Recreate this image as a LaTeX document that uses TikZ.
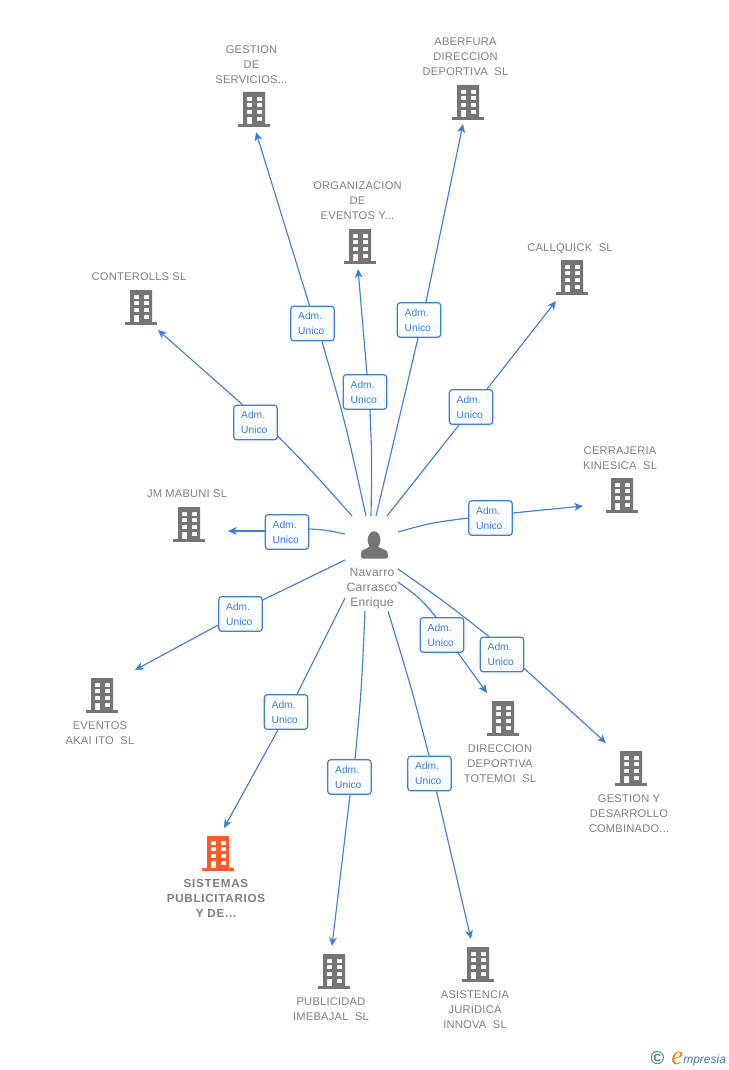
\documentclass[tikz,border=0pt]{standalone}
\usepackage{fontspec}
\setmainfont{Liberation Sans}
\newfontfamily\lblfont[LetterSpace=2]{Liberation Sans}
\newfontfamily\boldlbl[LetterSpace=6]{Liberation Sans Bold}
\newfontfamily\logofont{Liberation Serif Italic}
\newfontfamily\logosans{Liberation Sans Italic}
\newfontfamily\logobold{Liberation Sans Bold}
\usetikzlibrary{arrows.meta,calc}
\definecolor{edgeblue}{HTML}{3A7FDD}
\definecolor{iconbase}{HTML}{757575}
\definecolor{lbl}{HTML}{7F7F7F}
\definecolor{hot}{HTML}{FF5A2B}
\definecolor{logoteal}{HTML}{3E7F95}
\definecolor{logoorange}{HTML}{F08A1E}
\tikzset{
  x=0.75pt,y=-0.75pt,
  adm/.style={draw=edgeblue,line width=0.9pt,top color=white,bottom color=edgeblue!5,rounded corners=2.2pt,minimum width=32.5pt,minimum height=26pt,inner sep=0pt,text=edgeblue,font=\fontsize{7.7}{11.25}\selectfont},
  entlbl/.style={text=lbl,align=center,inner sep=0pt,anchor=north,font=\fontsize{8.35}{11.25}\lblfont},
  hotlbl/.style={text=lbl,align=center,inner sep=0pt,anchor=north,font=\fontsize{8.75}{11.25}\boldlbl},
  perlbl/.style={text=lbl,align=center,inner sep=0pt,anchor=north,font=\fontsize{9.1}{11.25}\lblfont},
  conn/.style={draw=edgeblue,line width=0.85pt},
  connarrow/.style={conn,-{Stealth[length=6.5pt,width=5.8pt,inset=1.8pt]}},
}
\newcommand{\admbox}[3]{\node[adm,align=left,text width=21.5pt] (#1) at (#2,#3) {Adm.\\Unico};}
\newcommand{\bldg}[4][iconbase]{%
  \coordinate (#2) at (#3,#4);
  \fill[#1,even odd rule] ($(#2)+(-11,-35)$) rectangle ($(#2)+(11,-3)$)
    ($(#2)+(-7,-30)$) rectangle ($(#2)+(-2,-26)$)
    ($(#2)+(3,-30)$) rectangle ($(#2)+(8,-26)$)
    ($(#2)+(-7,-24)$) rectangle ($(#2)+(-2,-20)$)
    ($(#2)+(3,-24)$) rectangle ($(#2)+(8,-20)$)
    ($(#2)+(-7,-17)$) rectangle ($(#2)+(-2,-13)$)
    ($(#2)+(3,-17)$) rectangle ($(#2)+(8,-13)$)
    ($(#2)+(-7,-10)$) rectangle ($(#2)+(-2,-3)$)
    ($(#2)+(3,-10)$) rectangle ($(#2)+(8,-6)$);
  \fill[#1] ($(#2)+(-16,-3)$) rectangle ($(#2)+(16,0)$);
}
\begin{document}
\begin{tikzpicture}
\useasboundingbox (0,0) rectangle (728,1070);
\fill[white] (0,0) rectangle (728,1070);

% buildings
\bldg{iGestion}{254}{127}
\bldg{iAber}{468}{120}
\bldg{iOrg}{360}{264}
\bldg{iCall}{572}{295}
\bldg{iCont}{141}{325}
\bldg{iCerr}{622}{513}
\bldg{iJm}{189}{542}
\bldg{iEven}{102}{713}
\bldg{iDir}{503}{736}
\bldg{iGesY}{631}{786}
\bldg[hot]{iSis}{218}{871}
\bldg{iPub}{334}{989}
\bldg{iAsis}{478}{982}

% labels
\node[entlbl] (tGestion) at (251.5,45.5) {GESTION\\DE\\SERVICIOS...};
\node[entlbl] (tAber) at (465.5,38) {ABERFURA\\DIRECCION\\DEPORTIVA~~SL};
\node[entlbl] (tOrg) at (357.5,181.5) {ORGANIZACION\\DE\\EVENTOS Y...};
\node[entlbl] (tCall) at (570,243.5) {CALLQUICK~~SL};
\node[entlbl] (tCont) at (139,272.5) {CONTEROLLS SL};
\node[entlbl] (tCerr) at (620,446.5) {CERRAJERIA\\KINESICA~~SL};
\node[entlbl] (tJm) at (187,489.5) {JM MABUNI SL};
\node[entlbl] (tEven) at (100,721.5) {EVENTOS\\AKAI ITO~~SL};
\node[entlbl] (tDir) at (500,744.5) {DIRECCION\\DEPORTIVA\\TOTEMOI~~SL};
\node[entlbl] (tGesY) at (629,794.5) {GESTION Y\\DESARROLLO\\COMBINADO...};
\node[hotlbl] (tSis) at (216,879) {SISTEMAS\\PUBLICITARIOS\\Y DE...};
\node[entlbl] (tPub) at (331,997.5) {PUBLICIDAD\\IMEBAJAL~~SL};
\node[entlbl] (tAsis) at (475,990.5) {ASISTENCIA\\JURIDICA\\INNOVA~~SL};

% person
\coordinate (hub) at (374,545);
\fill[iconbase] (374,540) ellipse (6.4 and 8.8);
\fill[iconbase,rounded corners=1.2pt] (361,558.5) -- (361,553) .. controls (362,549.5) and (367,549) .. (370,546) -- (378,546) .. controls (381,549) and (386,549.5) .. (388,553) -- (388,558.5) -- cycle;
\node[perlbl] (tPer) at (372,567.5) {Navarro\\Carrasco\\Enrique};

% relation boxes
\admbox{bGestion}{312.5}{323.5}
\admbox{bAber}{419}{320}
\admbox{bOrg}{365}{392}
\admbox{bCall}{471}{407}
\admbox{bCont}{255.5}{422.5}
\admbox{bCerr}{490.5}{518}
\admbox{bJm}{287}{532}
\admbox{bEven}{240.5}{614}
\admbox{bSis}{286}{712}
\admbox{bPub}{349.5}{777}
\admbox{bAsis}{429.5}{773.5}
\admbox{bDir}{442}{635}
\admbox{bGesY}{502}{654.5}

% connector ends
\coordinate (sGestion) at (366,516);
\coordinate (eGestion) at (256,132);
\coordinate (sAber) at (376,516);
\coordinate (eAber) at (463,124);
\coordinate (sOrg) at (371,516);
\coordinate (eOrg) at (358,269);
\coordinate (sCall) at (387,516);
\coordinate (eCall) at (556,301);
\coordinate (sCont) at (352,516);
\coordinate (eCont) at (158,330);
\coordinate (sCerr) at (398,532);
\coordinate (eCerr) at (583,506);
\coordinate (sJm) at (345,534);
\coordinate (eJm) at (228,531);
\coordinate (sEven) at (345,560);
\coordinate (eEven) at (135,670);
\coordinate (sSis) at (345,598);
\coordinate (eSis) at (224,828);
\coordinate (sPub) at (365,611);
\coordinate (ePub) at (332,946);
\coordinate (sAsis) at (388,611);
\coordinate (eAsis) at (471,939);
\coordinate (sDir) at (398,582);
\coordinate (eDir) at (487,693);
\coordinate (sGesY) at (398,569);
\coordinate (eGesY) at (606,743);

% connectors: person to box, box to company
\draw[conn] (sGestion) .. controls (346,425) .. ($(bGestion.south)+(9.5,0)$);
\draw[connarrow] ($(bGestion.north)+(-3,0)$) -- (eGestion);
\draw[conn] (sAber) .. controls (396,432) .. ($(bAber.south)+(-1,0)$);
\draw[connarrow] ($(bAber.north)+(7,0)$) -- (eAber);
\draw[conn] (sOrg) .. controls (372,460) .. ($(bOrg.south)+(5,0)$);
\draw[connarrow] ($(bOrg.north)+(2,0)$) -- (eOrg);
\draw[conn] (sCall) -- ($(bCall.south)+(-12,0)$);
\draw[connarrow] ($(bCall.north)+(16,0)$) -- (eCall);
\draw[conn] (sCont) .. controls (313,472) .. ($(bCont.east)+(0,13.5)$);
\draw[connarrow] ($(bCont.north)+(-13,0)$) -- (eCont);
\draw[conn] (sCerr) .. controls (430,523) .. ($(bCerr.west)+(0,0)$);
\draw[connarrow] ($(bCerr.east)+(0,-5)$) -- (eCerr);
\draw[conn] (sJm) .. controls (326,530) .. ($(bJm.east)+(0,-3)$);
\draw[connarrow] ($(bJm.west)+(0,-1)$) -- (eJm);
\draw[conn] (sEven) -- ($(bEven.east)+(0,-14)$);
\draw[connarrow] ($(bEven.west)+(0,11)$) -- (eEven);
\draw[conn] (sSis) -- ($(bSis.north)+(11,0)$);
\draw[connarrow] ($(bSis.south)+(-8,0)$) -- (eSis);
\draw[conn] (sPub) .. controls (361.5,690) .. ($(bPub.north)+(5.5,0)$);
\draw[connarrow] ($(bPub.south)+(0.5,0)$) -- (ePub);
\draw[conn] (sAsis) .. controls (412,690) .. ($(bAsis.north)+(-0.5,0)$);
\draw[connarrow] ($(bAsis.south)+(7,0)$) -- (eAsis);
\draw[conn] (sDir) .. controls (420,598) .. ($(bDir.north)+(-6,0)$);
\draw[connarrow] ($(bDir.south)+(16,0)$) -- (eDir);
\draw[conn] (sGesY) .. controls (445,602) .. ($(bGesY.north)+(-13,0)$);
\draw[connarrow] ($(bGesY.east)+(0,14)$) -- (eGesY);

% logo
\node[inner sep=0pt,text=logoteal,font=\fontsize{14}{14}\logobold] (lc) at (657.5,1058.5) {©};
\node[inner sep=0pt,anchor=base west,text=logoorange,font=\fontsize{20}{20}\logofont] (le) at (671,1064) {e};
\node[inner sep=0pt,anchor=base west,text=logoteal,font=\fontsize{9}{11}\logosans] (lm) at (683,1063) {mpresia};
\end{tikzpicture}
\end{document}
